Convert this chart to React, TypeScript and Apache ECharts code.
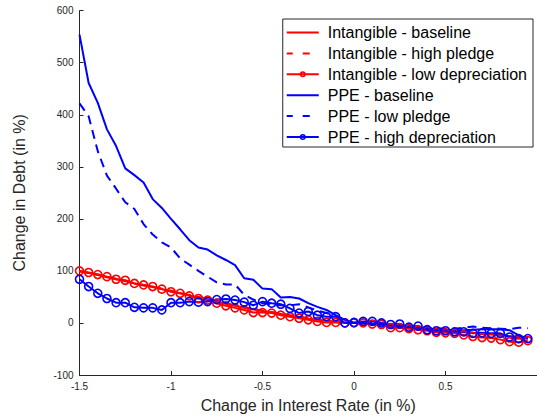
import React, { useEffect, useRef } from "react";
import * as echarts from "echarts";

const rates = [
  -1.5, -1.45, -1.4, -1.35, -1.3, -1.25, -1.2, -1.15, -1.1, -1.05,
  -1, -0.95, -0.9, -0.85, -0.8, -0.75, -0.7, -0.65, -0.6, -0.55,
  -0.5, -0.45, -0.4, -0.35, -0.3, -0.25, -0.2, -0.15, -0.1, -0.05,
  0, 0.05, 0.1, 0.15, 0.2, 0.25, 0.3, 0.35, 0.4, 0.45,
  0.5, 0.55, 0.6, 0.65, 0.7, 0.75, 0.8, 0.85, 0.9, 0.95,
];

const intangibleBaseline = [
  99, 96, 92, 88, 84, 80, 76, 72, 69, 65,
  61, 57, 53, 49, 45, 41, 37, 33, 29, 26,
  23, 20, 17, 14, 11, 8, 6, 4, 2, 1,
  0, -1, -3, -4, -6, -7, -9, -10, -12, -13,
  -15, -16, -18, -19, -21, -22, -24, -25, -27, -28,
];

const intangibleHighPledge = [
  100, 96, 93, 89, 85, 81, 77, 73, 69, 66,
  62, 58, 54, 50, 46, 42, 38, 34, 30, 27,
  24, 21, 18, 15, 12, 9, 6, 4, 2, 1,
  0, -1, -2, -4, -5, -7, -8, -10, -11, -13,
  -14, -16, -17, -19, -20, -22, -23, -25, -26, -27,
];

const intangibleLowDep = [
  100, 97, 93, 89, 84, 82, 76, 73, 70, 65,
  60, 57, 52, 47, 44, 38, 33, 29, 25, 20,
  20, 19, 15, 12, 9, 6, 3, 1, 1, 0,
  0, 0, -2, -3, -9, -9, -11, -13, -15, -18,
  -19, -20, -23, -26, -28, -29, -32, -36, -37, -34,
];

const ppeBaseline = [
  554, 461, 423, 372, 340, 297, 284, 270, 238, 221,
  200, 180, 159, 145, 141, 130, 121, 111, 86, 83,
  66, 65, 49, 50, 47, 38, 31, 25, 15, 6,
  0, 0, -2, -3, -5, -6, -8, -9, -11, -12,
  -13, -14, -14, -13, -12, -12, -12, -14, -24, -30,
];

const ppeLowPledge = [
  422, 397, 330, 283, 258, 232, 219, 190, 170, 155,
  145, 124, 112, 100, 89, 78, 74, 74, 54, 45,
  38, 36, 34, 34, 36, 30, 24, 19, 13, 5,
  0, 1, 0, -2, -4, -5, -5, -7, -9, -10,
  -11, -11, -9, -7, -9, -10, -11, -12, -9, -10,
];

const ppeHighDep = [
  84, 70, 57, 47, 39, 39, 30, 29, 29, 25,
  39, 39, 41, 40, 41, 45, 46, 44, 40, 34,
  41, 38, 36, 28, 19, 22, 15, 12, 12, 0,
  1, 3, 3, 0, -3, -2, -8, -6, -13, -15,
  -15, -17, -17, -20, -19, -20, -20, -27, -30, -30,
];

const legendNames = [
  "Intangible - baseline",
  "Intangible - high pledge",
  "Intangible - low depreciation",
  "PPE - baseline",
  "PPE - low pledge",
  "PPE - high depreciation",
];

const RED = "#ff0000";
const BLUE = "#0000ff";
const AXIS = "#262626";
const FONT = "'Liberation Sans', Arial, Helvetica, sans-serif";

// legend icons (32 x 10 box, kept by zero-area sub-paths at the edges)
const EXTENT = "M0,0L0,10ZM32,0L32,10Z";
const ICON_SOLID = "path://" + EXTENT + "M0,4H32V6H0Z";
const ICON_DASH = "path://" + EXTENT + "M0,4H6V6H0ZM16,4H23V6H16Z";
const ICON_MARK =
  "path://" +
  EXTENT +
  "M0,4H32V6H0Z" +
  "M13,5A3,3 0 1 1 19,5A3,3 0 1 1 13,5Z" +
  "M14.5,5A1.5,1.5 0 1 0 17.5,5A1.5,1.5 0 1 0 14.5,5Z";

function pair(values: number[]) {
  return rates.map((x, i) => [x, values[i]]);
}

function lineSeries(name: string, values: number[], color: string, kind: "solid" | "dashed" | "marker") {
  const base: any = {
    name,
    type: "line",
    data: pair(values),
    lineStyle: {
      color,
      width: 2,
      type: kind === "dashed" ? [9, 6] : "solid",
    },
    itemStyle: { color },
  };
  if (kind === "marker") {
    base.symbol = "circle";
    base.symbolSize = 8;
    base.showSymbol = true;
    base.itemStyle = { color: "rgba(0,0,0,0)", borderColor: color, borderWidth: 1.6 };
  } else {
    base.symbol = "none";
    base.showSymbol = false;
  }
  return base;
}

const legendIcons = [ICON_SOLID, ICON_DASH, ICON_MARK, ICON_SOLID, ICON_DASH, ICON_MARK];
const legendColors = [RED, RED, RED, BLUE, BLUE, BLUE];

export default function App() {
  const ref = useRef<HTMLDivElement>(null);
  useEffect(() => {
    if (!ref.current) return;
    const chart = echarts.init(ref.current, null, { renderer: "svg" });
    chart.setOption({
      animation: false,
      backgroundColor: "#ffffff",
      textStyle: { fontFamily: FONT },
      grid: { left: 79.5, right: -5, top: 10.7, bottom: 41.3, containLabel: false },
      legend: {
        orient: "vertical",
        right: 4,
        top: 19,
        itemWidth: 32,
        itemHeight: 10,
        itemGap: 4.9,
        padding: [5.5, 6, 2, 4],
        borderColor: AXIS,
        borderWidth: 1,
        backgroundColor: "#ffffff",
        textStyle: { fontSize: 16, color: "#000", fontFamily: FONT, padding: [0, 0, 0, 4] },
        data: legendNames.map((n, i) => ({
          name: n,
          icon: legendIcons[i],
          itemStyle: { color: legendColors[i], borderWidth: 0, borderColor: legendColors[i] },
        })),
      },
      xAxis: {
        type: "value",
        min: -1.5,
        max: 1,
        interval: 0.5,
        name: "Change in Interest Rate (in %)",
        nameLocation: "middle",
        nameGap: 22,
        nameTextStyle: { fontSize: 16, color: AXIS, fontFamily: FONT },
        axisLine: { show: true, onZero: false, lineStyle: { color: AXIS, width: 1 } },
        axisTick: { show: true, inside: true, length: 4, lineStyle: { color: AXIS } },
        axisLabel: { color: AXIS, fontSize: 10, margin: 6, showMaxLabel: false, fontFamily: FONT },
        splitLine: { show: false },
      },
      yAxis: {
        type: "value",
        min: -100,
        max: 600,
        interval: 100,
        name: "Change in Debt (in %)",
        nameLocation: "middle",
        nameGap: 52,
        nameTextStyle: { fontSize: 16, color: AXIS, fontFamily: FONT },
        axisLine: { show: true, onZero: false, lineStyle: { color: AXIS, width: 1 } },
        axisTick: { show: true, inside: true, length: 4, lineStyle: { color: AXIS } },
        axisLabel: { color: AXIS, fontSize: 10, margin: 6, fontFamily: FONT },
        splitLine: { show: false },
      },
      series: [
        lineSeries(legendNames[0], intangibleBaseline, RED, "solid"),
        lineSeries(legendNames[1], intangibleHighPledge, RED, "dashed"),
        lineSeries(legendNames[2], intangibleLowDep, RED, "marker"),
        lineSeries(legendNames[3], ppeBaseline, BLUE, "solid"),
        lineSeries(legendNames[4], ppeLowPledge, BLUE, "dashed"),
        lineSeries(legendNames[5], ppeHighDep, BLUE, "marker"),
      ],
    });
    return () => chart.dispose();
  }, []);
  return (
    <div
      ref={ref}
      style={{ position: "fixed", left: 0, top: 0, width: 537, height: 418, background: "#fff" }}
    />
  );
}
